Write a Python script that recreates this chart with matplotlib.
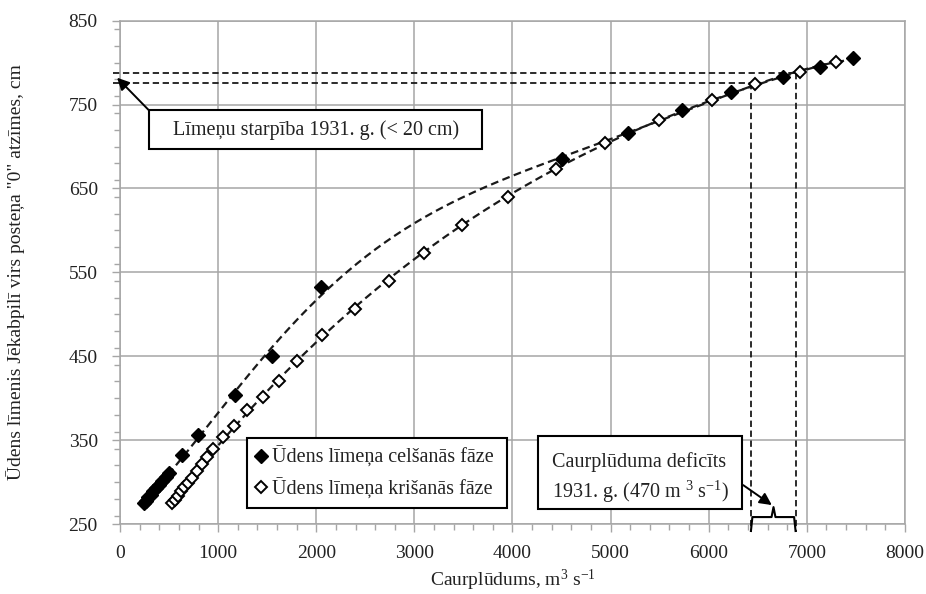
import numpy as np
import matplotlib
matplotlib.use("Agg")
from matplotlib import pyplot as plt
from matplotlib.patches import Rectangle
from matplotlib.ticker import MultipleLocator

# water level rising phase (filled diamonds): discharge m3/s, level cm
rise_q = [240, 265, 290, 315, 340, 370, 400, 430, 465, 500, 630, 790,
          1170, 1550, 2050, 4500, 5180, 5730, 6230, 6760, 7130, 7470]
rise_h = [275, 278, 282, 285, 289, 293, 297, 301, 306, 311, 332, 356,
          404, 450, 532, 685, 716, 743, 765, 783, 795, 805]

# water level falling phase (open diamonds)
fall_q = [530, 560, 590, 620, 655, 690, 730, 780, 840, 890, 950, 1050,
          1160, 1290, 1460, 1620, 1800, 2060, 2390, 2740, 3100, 3490,
          3950, 4440, 4940, 5490, 6030, 6470, 6930, 7300]
fall_h = [275, 279, 284, 289, 294, 299, 305, 313, 322, 330, 339, 354,
          367, 386, 402, 421, 444, 475, 506, 540, 573, 607,
          640, 673, 704, 732, 755, 774, 789, 801]

# 1931 levels and the discharge deficit marked with dashed guides
level_hi = 787.5
level_lo = 775.5
q_left = 6430
q_right = 6885

x_ticks = np.arange(0, 8001, 1000)
y_ticks = np.arange(250, 851, 100)

plt.rcParams['font.family'] = ['Liberation Serif', 'DejaVu Serif']
plt.rcParams['mathtext.fontset'] = 'custom'
plt.rcParams['mathtext.rm'] = 'Liberation Serif'
plt.rcParams['mathtext.it'] = 'Liberation Serif:italic'
plt.rcParams['mathtext.default'] = 'regular'

TXT = '#222222'
GRID = '#a6a6a6'
DASH = (0, (3.5, 2))


def trend(q, h, deg):
    """polynomial trend line over the range of the points (like excel)"""
    qk = np.array(q) / 1000.0
    c = np.polyfit(qk, h, deg)
    xs = np.linspace(qk.min(), qk.max(), 300)
    return xs * 1000, np.polyval(c, xs)


fig = plt.figure(figsize=(9.26, 5.94), dpi=100)
ax = fig.add_axes([0.1296, 0.1178, 0.8477, 0.8474])

for q, h, deg in [(rise_q, rise_h, 6), (fall_q, fall_h, 3)]:
    xs, ys = trend(q, h, deg)
    ax.plot(xs, ys, color='#1a1a1a', lw=1.6, ls=DASH, zorder=3)

ax.plot(rise_q, rise_h, ls='none', marker='D', ms=7, mfc='black',
        mec='black', label='Ūdens līmeņa celšanās fāze', zorder=4)
ax.plot(fall_q, fall_h, ls='none', marker='D', ms=6, mfc='white',
        mec='black', mew=1.4, label='Ūdens līmeņa krišanās fāze', zorder=4)

# dashed guide lines
kw = dict(color='#1a1a1a', lw=1.3, ls=DASH, clip_on=False, zorder=3)
ax.plot([-70, q_right], [level_hi, level_hi], **kw)
ax.plot([-70, q_left], [level_lo, level_lo], **kw)
ax.plot([q_left, q_left], [level_lo, 240.5], **kw)
ax.plot([q_right, q_right], [level_hi, 240.5], **kw)

# brace under the deficit
mid = 6660
bx = [q_left, q_left + 15, mid - 20, mid, mid + 20, q_right - 15, q_right]
by = [241.7, 258.3, 258.3, 270.2, 258.3, 258.3, 241.7]
ax.plot(bx, by, color='black', lw=1.5, clip_on=False, zorder=5)

# text boxes
ax.add_patch(Rectangle((296, 697.6), 3394, 45.4, facecolor='white',
                       edgecolor='black', lw=1.5, zorder=6))
ax.text(1993, 720, 'Līmeņu starpība 1931. g. (< 20 cm)', ha='center',
        va='center', fontsize=14.5, color=TXT, zorder=7)
ax.annotate('', xy=(-30, 782), xytext=(296, 743), annotation_clip=False,
            arrowprops=dict(arrowstyle='-|>', color='black', lw=1.4,
                            mutation_scale=18, shrinkA=0, shrinkB=0),
            zorder=7)

ax.add_patch(Rectangle((4261, 267.9), 2079, 86.9, facecolor='white',
                       edgecolor='black', lw=1.5, zorder=6))
ax.text(4400, 324, 'Caurplūduma deficīts', ha='left', va='center',
        fontsize=14.5, color=TXT, zorder=7)
ax.text(4400, 288.5, '1931. g. (470 m $^{3}$ s$^{-1}$)', ha='left',
        va='center', fontsize=14.5, color=TXT, zorder=7)
ax.annotate('', xy=(6643, 272.6), xytext=(6351, 296.4),
            annotation_clip=False,
            arrowprops=dict(arrowstyle='-|>', color='black', lw=1.4,
                            mutation_scale=18, shrinkA=0, shrinkB=0),
            zorder=7)

ax.set_xlim(0, 8000)
ax.set_ylim(250, 850)
ax.set_xticks(x_ticks)
ax.set_yticks(y_ticks)
ax.xaxis.set_minor_locator(MultipleLocator(200))
ax.yaxis.set_minor_locator(MultipleLocator(20))
ax.tick_params(which='major', direction='out', length=6, width=1,
               color=GRID, labelsize=14, labelcolor=TXT)
ax.tick_params(axis='y', which='major', pad=10)
ax.tick_params(axis='x', which='major', pad=9)
ax.tick_params(which='minor', direction='out', length=4, width=1,
               color=GRID)
ax.grid(True, which='major', color=GRID, lw=1.1, zorder=0)
ax.set_axisbelow(True)
for s in ax.spines.values():
    s.set_color(GRID)
    s.set_linewidth(1.1)

ax.set_xlabel('Caurplūdums, m$^{3}$ s$^{-1}$', fontsize=14, color=TXT)
ax.set_ylabel('Ūdens līmenis Jēkabpilī virs posteņa "0" atzīmes, cm',
              fontsize=14, color=TXT)
ax.xaxis.set_label_coords(0.5, -0.087)
ax.yaxis.set_label_coords(-0.121, 0.5)

leg = ax.legend(loc='lower left', bbox_to_anchor=(0.1614, 0.0312, 0.332, 0.141),
                mode='expand', borderaxespad=0, fontsize=14.5, handlelength=0.5,
                handletextpad=0.3, labelspacing=0.5, borderpad=0.45,
                fancybox=False, framealpha=1, edgecolor='black')
leg.get_frame().set_linewidth(1.5)
leg.set_zorder(8)
for t in leg.get_texts():
    t.set_color(TXT)

fig.savefig('out.png', dpi=100)
